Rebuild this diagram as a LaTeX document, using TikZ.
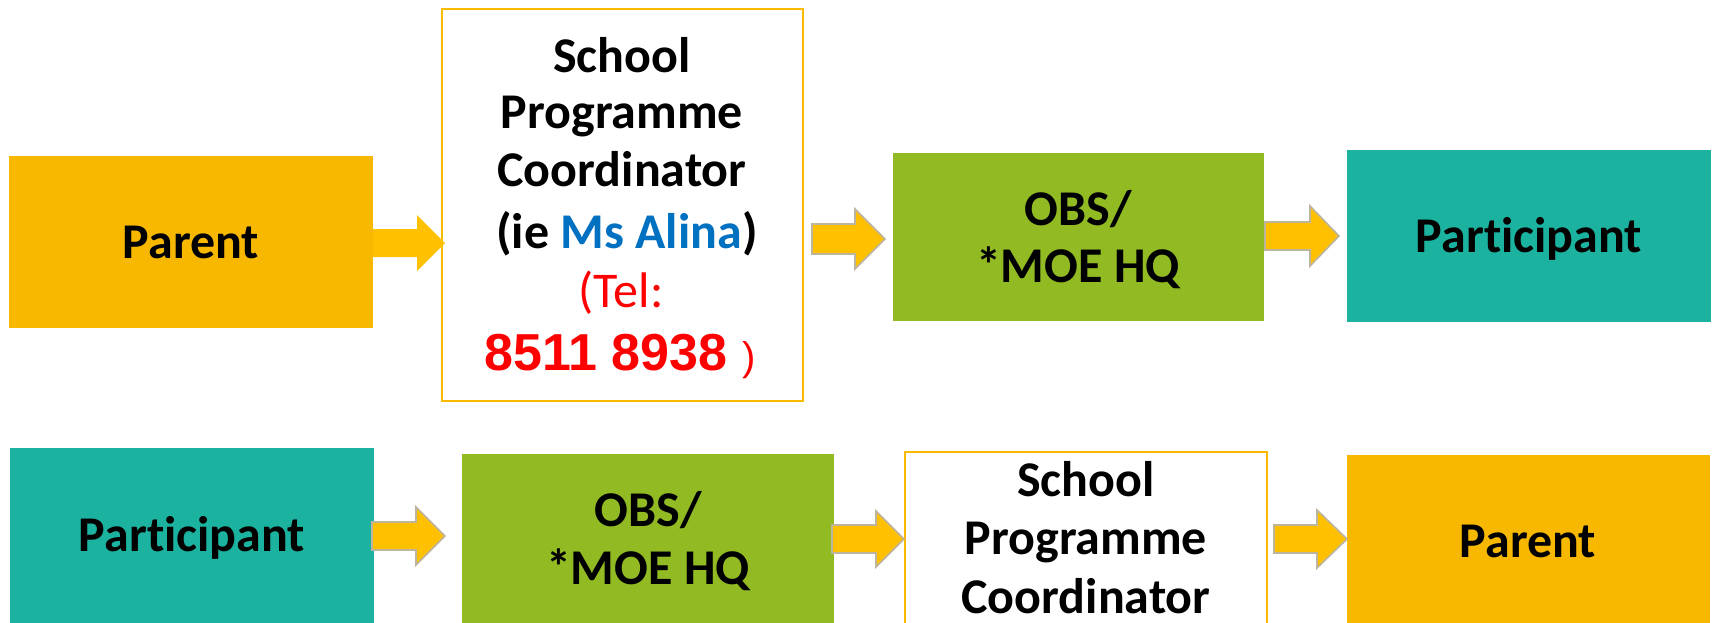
\documentclass[tikz,border=0pt]{standalone}
\usepackage{fontspec}
\setmainfont{Carlito}[Ligatures={NoCommon}]
\newfontfamily\arialf{Liberation Sans}
\usetikzlibrary{fit}
\definecolor{cParent}{HTML}{F8B800}
\definecolor{cArrow}{HTML}{FFC000}
\definecolor{cGreen}{HTML}{92BB23}
\definecolor{cTeal}{HTML}{1BB39F}
\definecolor{cBorder}{HTML}{F9BA00}
\definecolor{cOutline}{HTML}{BDB49E}
\definecolor{cBlue}{HTML}{0070C0}
\definecolor{cRed}{HTML}{FF0000}
\tikzset{
  fillbox/.style={inner sep=0pt, outer sep=0pt, draw=none},
  framebox/.style={inner sep=0pt, outer sep=0pt, draw=cBorder, line width=1pt, fill=white},
  lbl/.style={anchor=base, inner sep=0pt, font=\bfseries\fontsize{25}{29}\selectfont},
  blk/.style={fill=cArrow, draw=cOutline, line width=0.8pt, line join=miter},
  blkplain/.style={fill=cArrow, draw=none}
}
% #1 style, #2 x start, #3 x head, #4 x tip, #5 y centre, #6 shaft half, #7 head half
\newcommand\blockarr[7]{%
  \path[#1] ({#2},{#5-#6}) -- ({#3},{#5-#6}) -- ({#3},{#5-#7}) -- ({#4},{#5})
    -- ({#3},{#5+#7}) -- ({#3},{#5+#6}) -- ({#2},{#5+#6}) -- cycle;}
\begin{document}
\begin{tikzpicture}[x=0.5pt,y=-0.5pt]
\useasboundingbox (0,0) rectangle (1713,622);
\clip (0,0) rectangle (1713,622);

% ---------- top row ----------
\node[fillbox, fill=cParent, fit={(9,156)(373,328)}] (parentT) {};
\node[framebox, fit={(442,9)(803,401)}] (spcT) {};
\node[fillbox, fill=cGreen, fit={(893,153)(1264,321)}] (obsT) {};
\node[fillbox, fill=cTeal, fit={(1347,150)(1711,322)}] (partT) {};

\node[lbl] (parentTt) at (191,258) {Parent};
\node[lbl] (spcT1) at (622,72) {School};
\node[lbl] (spcT2) at (622,128) {Programme};
\node[lbl] (spcT3) at (622,186) {Coordinator};
\node[lbl] (spcT4) at (627,248) {(ie \textcolor{cBlue}{Ms Alina})};
\node[lbl, font=\fontsize{25}{29}\selectfont, text=cRed] (spcT5) at (621,307) {(Tel:};
\node[lbl, font=\arialf\fontsize{26}{30}\selectfont, text=cRed] (spcT6) at (620,370)
  {{\bfseries 8511 8938 }{\fontsize{20}{24}\selectfont)}};
\node[lbl] (obsT1) at (1078,225) {OBS/};
\node[lbl] (obsT2) at (1078,282) {*MOE HQ};
\node[lbl] (partTt) at (1529,252) {Participant};

\blockarr{blkplain}{373}{417}{445}{243}{14}{28}
\blockarr{blk}{812}{855}{885}{239}{15}{30}
\blockarr{blk}{1265}{1310}{1339}{236}{14}{30}

% ---------- bottom row ----------
\node[fillbox, fill=cTeal, fit={(10,448)(374,640)}] (partB) {};
\node[fillbox, fill=cGreen, fit={(462,454)(834,640)}] (obsB) {};
\node[framebox, fit={(905,452)(1267,640)}] (spcB) {};
\node[fillbox, fill=cParent, fit={(1347,455)(1710,640)}] (parentB) {};

\node[lbl] (partBt) at (192,551) {Participant};
\node[lbl] (obsB1) at (648,526) {OBS/};
\node[lbl] (obsB2) at (648,584) {*MOE HQ};
\node[lbl] (spcB1) at (1086,496) {School};
\node[lbl] (spcB2) at (1086,554) {Programme};
\node[lbl] (spcB3) at (1086,613) {Coordinator};
\node[lbl] (parentBt) at (1528,557) {Parent};

\blockarr{blk}{372}{416}{445}{536}{14}{29}
\blockarr{blk}{832}{876}{904}{539}{14}{28}
\blockarr{blk}{1274}{1317}{1347}{539}{14}{29}
\end{tikzpicture}
\end{document}
